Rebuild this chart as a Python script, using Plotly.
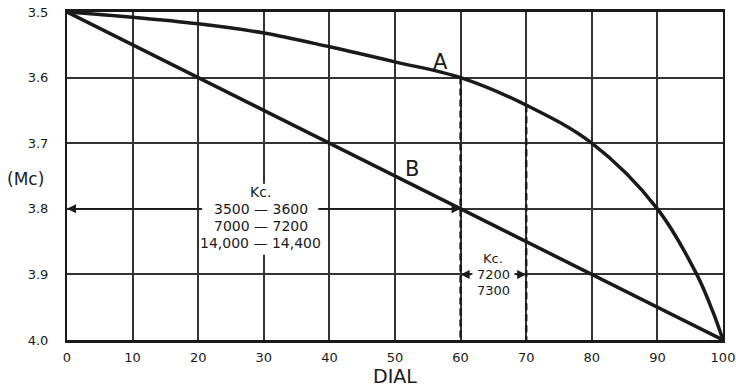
import plotly.graph_objects as go

# ---- data ----
dial_a = [0, 10, 20, 30, 40, 50, 60, 70, 80, 90, 96, 98.5, 100]
mc_a = [3.5, 3.508, 3.518, 3.532, 3.553, 3.576, 3.6, 3.642, 3.7, 3.8, 3.9, 3.958, 4.0]

dial_b = [0, 100]
mc_b = [3.5, 4.0]

mark_dial = [60, 70]
mark_top = [3.6, 3.642]
axis_bottom = 4.0

x_ticks = [0, 10, 20, 30, 40, 50, 60, 70, 80, 90, 100]
y_ticks = [3.5, 3.6, 3.7, 3.8, 3.9, 4.0]
y_ticklabels = ["3.5", "3.6", "3.7", "3.8", "3.9", "4.0"]

kc_lines = ["Kc.", "3500 \u2014 3600", "7000 \u2014 7200", "14,000 \u2014 14,400"]
kc_y = [3.774, 3.8, 3.826, 3.852]
kc2_lines = ["Kc.", "7200", "7300"]
kc2_y = [3.876, 3.9, 3.924]

FONT = "DejaVu Sans"
INK = "#1a1a1a"

fig = go.Figure()

# dashed marker lines
for xv, top in zip(mark_dial, mark_top):
    fig.add_trace(go.Scatter(x=[xv, xv], y=[top, axis_bottom], mode="lines",
                             line=dict(color=INK, width=2.5, dash="7px,4px"),
                             showlegend=False, hoverinfo="skip"))

fig.add_trace(go.Scatter(x=dial_a, y=mc_a, mode="lines", line_shape="spline",
                         line=dict(color=INK, width=3.5, smoothing=1),
                         showlegend=False))
fig.add_trace(go.Scatter(x=dial_b, y=mc_b, mode="lines",
                         line=dict(color=INK, width=3.5), showlegend=False))

# white box behind the first Kc text block
fig.add_shape(type="rect", x0=20.6, x1=38.3, y0=3.762, y1=3.870,
              fillcolor="white", line=dict(width=0), layer="between")

for t, yv in zip(kc_lines, kc_y):
    fig.add_annotation(x=29.5, y=yv, text=t, showarrow=False,
                       font=dict(family=FONT, size=14, color=INK))

# arrows along 3.8
fig.add_annotation(x=0, y=3.8, ax=20.6, ay=3.8, axref="x", ayref="y", text="",
                   showarrow=True, arrowhead=2, arrowsize=1.2, arrowwidth=1.5, arrowcolor=INK)
fig.add_annotation(x=60, y=3.8, ax=38.3, ay=3.8, axref="x", ayref="y", text="",
                   showarrow=True, arrowhead=2, arrowsize=1.2, arrowwidth=1.5, arrowcolor=INK)

# second Kc block
fig.add_shape(type="rect", x0=61.8, x1=68.2, y0=3.89, y1=3.935,
              fillcolor="white", line=dict(width=0), layer="between")
for t, yv in zip(kc2_lines, kc2_y):
    fig.add_annotation(x=65, y=yv, text=t, showarrow=False,
                       font=dict(family=FONT, size=13, color=INK))
fig.add_annotation(x=60, y=3.9, ax=61.8, ay=3.9, axref="x", ayref="y", text="",
                   showarrow=True, arrowhead=2, arrowsize=1.2, arrowwidth=1.5, arrowcolor=INK)
fig.add_annotation(x=70, y=3.9, ax=68.2, ay=3.9, axref="x", ayref="y", text="",
                   showarrow=True, arrowhead=2, arrowsize=1.2, arrowwidth=1.5, arrowcolor=INK)

# curve labels
fig.add_annotation(x=56.9, y=3.576, text="A", showarrow=False,
                   font=dict(family=FONT, size=21, color=INK))
fig.add_annotation(x=52.6, y=3.739, text="B", showarrow=False,
                   font=dict(family=FONT, size=21, color=INK))
fig.add_annotation(x=-0.063, y=3.755, xref="paper", yref="y", xanchor="center",
                   text="(Mc)", showarrow=False,
                   font=dict(family=FONT, size=17, color=INK))

fig.update_layout(
    width=736, height=387,
    margin=dict(l=67, r=13, t=12, b=47),
    paper_bgcolor="white", plot_bgcolor="white",
    font=dict(family=FONT, color=INK),
    xaxis=dict(range=[0, 100], tickvals=x_ticks, showgrid=True, automargin=False,
               gridcolor="#333", gridwidth=1.5, zeroline=False,
               showline=True, linecolor=INK, linewidth=2.5, mirror=True,
               ticks="", tickfont=dict(size=13), ticklabelstandoff=4,
               ticklabeloverflow="allow",
               title=dict(text="DIAL", font=dict(size=19), standoff=2)),
    yaxis=dict(range=[4.0, 3.5], tickvals=y_ticks, ticktext=y_ticklabels,
               showgrid=True, gridcolor="#333", gridwidth=1.5, zeroline=False,
               automargin=False, ticklabeloverflow="allow",
               showline=True, linecolor=INK, linewidth=2, mirror=True,
               ticks="", tickfont=dict(size=13), ticklabelstandoff=14),
)

fig.write_html("out.html", config={"displayModeBar": False},
               post_script="document.body.style.margin='0';")
